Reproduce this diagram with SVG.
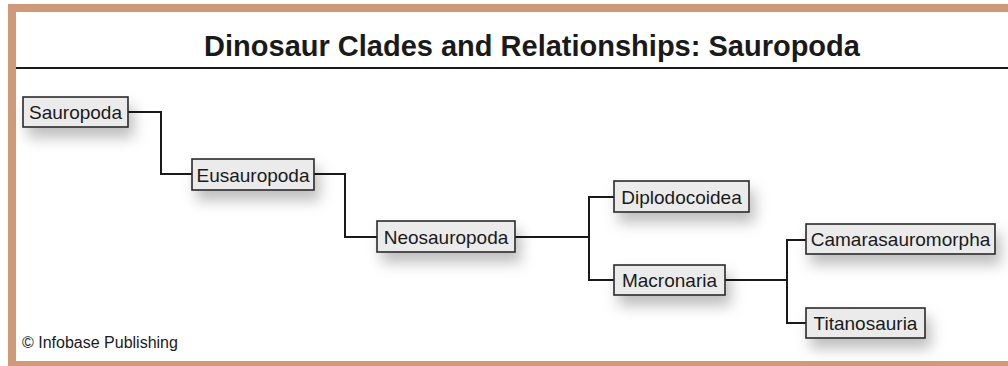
<svg xmlns="http://www.w3.org/2000/svg" width="1008" height="366" viewBox="0 0 1008 366">
<style>
.frame{fill:#D09A7A}
.title{font-family:"Liberation Sans",Arial,sans-serif;font-weight:bold;font-size:29px;fill:#1a1a1a}
.box{fill:#EBEBEB;stroke:#2a2a2a;stroke-width:1.6}
.lbl{font-family:"Liberation Sans",Arial,sans-serif;font-size:19px;fill:#1a1a1a;text-anchor:middle}
.conn{fill:none;stroke:#1a1a1a;stroke-width:2}
.credit{font-family:"Liberation Sans",Arial,sans-serif;font-size:16px;fill:#1a1a1a}
</style>
<defs>
<filter id="sh" x="-20%" y="-40%" width="160%" height="260%">
<feDropShadow dx="5" dy="10" stdDeviation="7" flood-color="#000" flood-opacity="0.25"/>
</filter>
</defs>
<rect x="0" y="0" width="1008" height="366" fill="#fff"/>
<rect class="frame" x="8" y="4" width="1000" height="8"/>
<rect class="frame" x="8" y="4" width="8" height="362"/>
<rect class="frame" x="8" y="361" width="1000" height="5"/>
<text class="title" x="532" y="56" text-anchor="middle">Dinosaur Clades and Relationships: Sauropoda</text>
<line x1="16" y1="68" x2="1008" y2="68" stroke="#1a1a1a" stroke-width="2"/>
<g id="connectors">
<polyline class="conn" points="128,112 161,112 161,174 192,174"/>
<polyline class="conn" points="314,174 345,174 345,237 377,237"/>
<line class="conn" x1="515" y1="237" x2="589" y2="237"/>
<polyline class="conn" points="614,197 589,197 589,280 614,280"/>
<line class="conn" x1="725" y1="280" x2="787" y2="280"/>
<polyline class="conn" points="806,240 787,240 787,323 806,323"/>
</g>
<g id="n-sauropoda"><rect class="box" x="23" y="97" width="105" height="30" filter="url(#sh)"/><text class="lbl" x="75.5" y="118.5">Sauropoda</text></g>
<g id="n-eusauropoda"><rect class="box" x="192" y="159" width="122" height="31" filter="url(#sh)"/><text class="lbl" x="253" y="181.5">Eusauropoda</text></g>
<g id="n-neosauropoda"><rect class="box" x="377" y="221" width="138" height="31" filter="url(#sh)"/><text class="lbl" x="446" y="243.5">Neosauropoda</text></g>
<g id="n-diplodocoidea"><rect class="box" x="614" y="181" width="135" height="31" filter="url(#sh)"/><text class="lbl" x="681.5" y="203.5">Diplodocoidea</text></g>
<g id="n-macronaria"><rect class="box" x="614" y="265" width="111" height="30" filter="url(#sh)"/><text class="lbl" x="669.5" y="286.5">Macronaria</text></g>
<g id="n-camarasauromorpha"><rect class="box" x="806" y="224" width="189" height="30" filter="url(#sh)"/><text class="lbl" x="900.5" y="245.5">Camarasauromorpha</text></g>
<g id="n-titanosauria"><rect class="box" x="806" y="308" width="119" height="30" filter="url(#sh)"/><text class="lbl" x="865.5" y="329.5">Titanosauria</text></g>
<text class="credit" x="22" y="348">© Infobase Publishing</text>
</svg>
